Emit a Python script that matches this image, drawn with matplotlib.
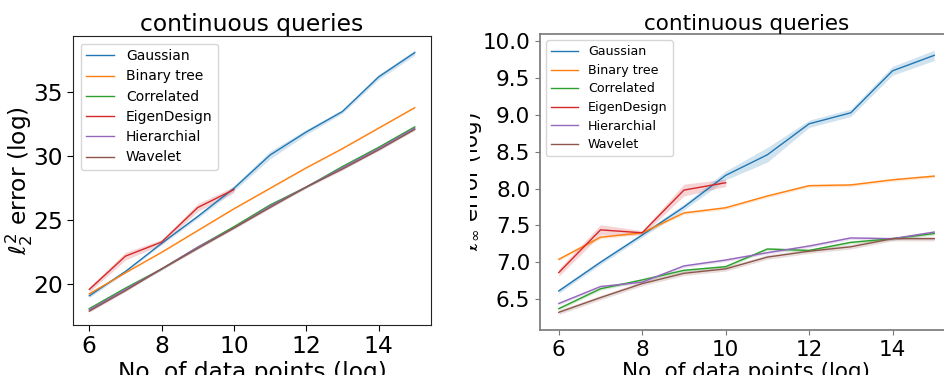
import numpy as np
import matplotlib
matplotlib.use("Agg")
import matplotlib.pyplot as plt
from matplotlib.patches import Rectangle

# ---------------- data ----------------
x_vals = [6, 7, 8, 9, 10, 11, 12, 13, 14, 15]
x_eigen = [6, 7, 8, 9, 10]
series_names = ["Gaussian", "Binary tree", "Correlated", "EigenDesign", "Hierarchial", "Wavelet"]

# left: l2^2 error (log)
l2_gaussian = [19.1, 21.0, 23.2, 25.3, 27.5, 30.1, 31.9, 33.5, 36.2, 38.1]
l2_binary = [19.25, 20.9, 22.5, 24.2, 25.9, 27.5, 29.1, 30.6, 32.2, 33.8]
l2_correlated = [18.1, 19.7, 21.2, 22.9, 24.5, 26.2, 27.6, 29.2, 30.7, 32.3]
l2_eigen = [19.6, 22.2, 23.3, 26.0, 27.4]
l2_hier = [18.0, 19.6, 21.2, 22.9, 24.4, 26.1, 27.6, 29.1, 30.6, 32.2]
l2_wavelet = [17.9, 19.5, 21.2, 22.8, 24.4, 26.0, 27.6, 29.0, 30.5, 32.1]

l2_gaussian_ci = [0.15, 0.1, 0.1, 0.15, 0.2, 0.3, 0.2, 0.15, 0.2, 0.2]
l2_binary_ci = [0.05] * 10
l2_correlated_ci = [0.08] * 10
l2_eigen_ci = [0.2, 0.3, 0.2, 0.3, 0.25]
l2_hier_ci = [0.08] * 10
l2_wavelet_ci = [0.08] * 10

# right: l_inf error (log)
li_gaussian = [6.61, 7.00, 7.37, 7.75, 8.18, 8.46, 8.88, 9.03, 9.60, 9.81]
li_binary = [7.04, 7.34, 7.40, 7.67, 7.74, 7.90, 8.04, 8.05, 8.12, 8.17]
li_correlated = [6.37, 6.64, 6.76, 6.89, 6.94, 7.18, 7.16, 7.27, 7.32, 7.39]
li_eigen = [6.86, 7.44, 7.40, 7.98, 8.08]
li_hier = [6.44, 6.67, 6.73, 6.95, 7.03, 7.13, 7.22, 7.33, 7.32, 7.41]
li_wavelet = [6.32, 6.52, 6.71, 6.85, 6.91, 7.07, 7.15, 7.21, 7.32, 7.32]

li_gaussian_ci = [0.03, 0.03, 0.03, 0.04, 0.06, 0.10, 0.05, 0.05, 0.06, 0.07]
li_binary_ci = [0.02] * 10
li_correlated_ci = [0.02] * 10
li_eigen_ci = [0.05, 0.07, 0.03, 0.08, 0.05]
li_hier_ci = [0.02] * 10
li_wavelet_ci = [0.03] * 10

colors = ["#1f77b4", "#ff7f0e", "#2ca02c", "#d62728", "#9467bd", "#8c564b"]

# ---------------- figure ----------------
W, H = 945, 375
plt.rcParams['font.family'] = ['DejaVu Sans']
plt.rcParams['mathtext.fontset'] = 'dejavusans'
fig = plt.figure(figsize=(W / 100, H / 100), dpi=100)


def px_axes(l, r, t, b):
    return [l / W, (H - b) / H, (r - l) / W, (b - t) / H]


def draw(ax, data, cis, lw):
    for name, ys, ci, c in zip(series_names, data, cis, colors):
        xs = x_eigen if name == "EigenDesign" else x_vals
        ys = np.array(ys)
        ci = np.array(ci)
        ax.fill_between(xs, ys - ci, ys + ci, color=c, alpha=0.2, lw=0)
        ax.plot(xs, ys, color=c, lw=lw, label=name)


# left panel
ax1 = fig.add_axes(px_axes(73, 431, 36, 325))
draw(ax1, [l2_gaussian, l2_binary, l2_correlated, l2_eigen, l2_hier, l2_wavelet],
     [l2_gaussian_ci, l2_binary_ci, l2_correlated_ci, l2_eigen_ci, l2_hier_ci, l2_wavelet_ci], 1.0)
ax1.set_xlim(5.55, 15.45)
ax1.set_ylim(16.82, 39.4)
ax1.set_xticks([6, 8, 10, 12, 14])
ax1.set_yticks([20, 25, 30, 35])
ax1.tick_params(labelsize=16.8, length=4, width=0.8)
ax1.set_title("continuous queries", fontsize=16.8, pad=2)
ax1.set_xlabel("No. of data points (log)", fontsize=16.8, labelpad=2)
ax1.set_ylabel(r"$\ell_2^2$ error (log)", fontsize=16.8)
ax1.yaxis.set_label_coords(-0.106, 0.5)
ax1.legend(loc="upper left", fontsize=10, handlelength=2.0, handletextpad=0.85,
           borderaxespad=0.55, labelspacing=0.45)
for sp in ax1.spines.values():
    sp.set_color("#222222")

# right panel
ax2 = fig.add_axes(px_axes(540, 953, 34, 330))
draw(ax2, [li_gaussian, li_binary, li_correlated, li_eigen, li_hier, li_wavelet],
     [li_gaussian_ci, li_binary_ci, li_correlated_ci, li_eigen_ci, li_hier_ci, li_wavelet_ci], 1.0)
ax2.set_xlim(5.55, 15.45)
ax2.set_ylim(6.08, 10.10)
ax2.set_xticks([6, 8, 10, 12, 14])
yt = [6.5, 7.0, 7.5, 8.0, 8.5, 9.0, 9.5, 10.0]
ax2.set_yticks(yt)
ax2.set_yticklabels([f"{v:.1f}" for v in yt])
ax2.tick_params(labelsize=15.5, length=3.5, width=0.8, color="#777777")
ax2.set_title("continuous queries", fontsize=15.5, pad=1)
ax2.set_xlabel("No. of data points (log)", fontsize=15.5, labelpad=2)
ax2.set_ylabel(r"$\ell_\infty$ error (log)", fontsize=15.5)
ax2.yaxis.set_label_coords(-0.135, 0.5)
ax2.legend(loc="upper left", fontsize=9.1, handlelength=2.1, handletextpad=0.8,
           borderaxespad=0.5, labelspacing=0.44)
for sp in ax2.spines.values():
    sp.set_color("#777777")
    sp.set_linewidth(1.2)

# crop edge of the right-hand image (its y-label is clipped at its left border)
fig.add_artist(Rectangle((440 / W, 0), 30 / W, 1, transform=fig.transFigure,
                         facecolor="white", edgecolor="none", zorder=10))

fig.savefig("out.png", dpi=100)
